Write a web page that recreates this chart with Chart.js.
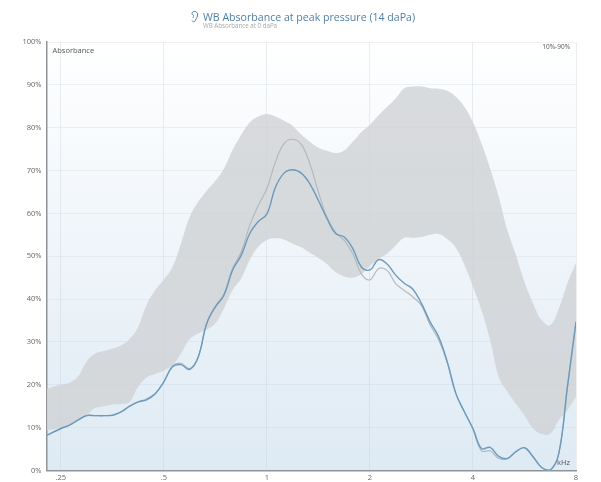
<!DOCTYPE html>
<html>
<head>
<meta charset="utf-8">
<title>WB Absorbance</title>
<script src="https://cdn.jsdelivr.net/npm/chart.js@4"></script>
<style>
  html, body { margin: 0; padding: 0; background: #fff; }
  #wrap { position: relative; width: 601px; height: 482px; overflow: hidden; }
  canvas { position: absolute; left: 0; top: 0; filter: blur(0.5px); }
  #title { position: absolute; left: 203px; top: 10px; font: 10.6px "Open Sans", sans-serif; color: #4f7fa8; white-space: nowrap; filter: blur(0.3px); }
  #subtitle { position: absolute; left: 203px; top: 21px; font: 6.2px "Open Sans", sans-serif; color: #a8a8a8; white-space: nowrap; filter: blur(0.3px); }
  #ear { position: absolute; left: 190px; top: 10px; }
</style>
</head>
<body>
<div id="wrap">
  <canvas id="chart" width="601" height="482"></canvas>
  <svg id="ear" width="9" height="13" viewBox="0 0 9 13"><path d="M2 10.5C3 12.5 5 12 5.5 10C6 8.5 8 7 7.5 4C7 1 3 0.5 2 3C1.5 4.5 3 4.5 3.5 5.5C4 6.5 3 7 3 8" fill="none" stroke="#4f7fa8" stroke-width="1"/></svg>
  <div id="title">WB Absorbance at peak pressure (14 daPa)</div>
  <div id="subtitle">WB Absorbance at 0 daPa</div>
</div>
<script>
const freqs = [
  .227, .25, .265, .281, .297, .315, .334, .354, .375, .397,
  .42, .445, .472, .5, .53, .561, .595, .63, .667, .707,
  .749, .794, .841, .891, .944, 1, 1.059, 1.122, 1.189, 1.26,
  1.335, 1.414, 1.498, 1.587, 1.682, 1.782, 1.888, 2, 2.119, 2.245,
  2.378, 2.52, 2.67, 2.828, 2.997, 3.175, 3.364, 3.564, 3.775, 4,
  4.238, 4.49, 4.757, 5.04, 5.339, 5.657, 5.993, 6.35, 6.727, 7.127,
  7.551, 8
];
const bandTop = [
  19, 20, 20.5, 22, 25.4, 27.3, 27.9, 28.5, 29.2, 30.7,
  33.4, 38.6, 42.1, 44.6, 47.5, 53, 59.2, 62.7, 65.3, 67.6,
  70.5, 74.8, 78.3, 81.2, 82.6, 83.2, 82.6, 81.6, 80.4, 78.4,
  76.7, 75.3, 74.6, 74.1, 74.7, 76.7, 79, 80.7, 82.9, 84.9,
  86.8, 89.2, 89.6, 89.6, 89.2, 89.1, 88.6, 87.2, 84.9, 81.3,
  76.3, 70.5, 63.9, 56.1, 50.3, 44, 39, 35.1, 33.9, 37.8,
  43.7, 48.5
];
const bandBottom = [
  9.4, 10, 10.6, 11.8, 12.9, 14.6, 15, 15.4, 15.5, 16,
  19.5, 21.7, 22.6, 23.3, 24.6, 27.3, 30.7, 32, 32.9, 34.3,
  37.8, 42.1, 44.8, 49.1, 52.2, 53.8, 54.2, 53.9, 52.9, 52.1,
  50.8, 49.6, 48.2, 46.3, 45.3, 45, 45.8, 47.7, 49.4, 50.6,
  52.5, 54.3, 54.3, 54.5, 55, 55.2, 54, 52, 48, 42.9,
  37.4, 30.4, 21.9, 18.4, 15.6, 12.9, 9.8, 8.5, 8.6, 11.8,
  14.1, 17.2
];
const peakPressure = [
  8.2, 9.8, 10.6, 11.8, 12.8, 12.8, 12.8, 12.9, 13.7, 15,
  16, 16.5, 17.9, 20.7, 24.2, 24.7, 23.6, 26.5, 34.3, 38.2,
  40.9, 46.8, 50.2, 55.3, 58.1, 59.9, 66.1, 69.4, 70.2, 69.4,
  66.9, 63, 58.8, 55.3, 54.5, 51.8, 47.5, 46.8, 49.2, 48.2,
  45.6, 43.7, 42.3, 39, 34.7, 31.2, 25.4, 18, 13.7, 9.8,
  5.1, 5.4, 3.3, 2.8, 4.4, 5.3, 3.2, .7, .1, 4,
  19.5, 34.7
];
const zeroPressure = [
  8.2, 9.8, 10.6, 11.8, 12.8, 12.8, 12.8, 12.9, 13.7, 15,
  16, 16.7, 18, 20.7, 24.4, 25, 23.8, 26.5, 34.3, 38.3,
  41.2, 47.2, 51, 57.2, 61.9, 65.8, 72, 76.3, 77.3, 76.1,
  71.6, 65, 59.1, 55.6, 53.7, 50.6, 45.9, 44.5, 47.1, 46.7,
  43.6, 42, 40.5, 38.5, 34, 30.5, 25.2, 18, 13.7, 9.6,
  4.6, 4.6, 2.8, 2.8, 4.4, 5.3, 3.2, .7, .1, 4,
  19.5, 34.7
];
const xTicks = [.25, .5, 1, 2, 4, 8];
const xTickLabels = ['.25', '.5', '1', '2', '4', '8'];

function points(values) {
  return freqs.map((f, i) => ({ x: f, y: values[i] }));
}

// plot background and the small captions inside the plot
const plotExtras = {
  id: 'plotExtras',
  beforeDraw(chart) {
    const { ctx, chartArea: a } = chart;
    const g = ctx.createLinearGradient(0, a.top, 0, a.bottom);
    g.addColorStop(0, '#ffffff');
    g.addColorStop(1, '#deeaf4');
    ctx.fillStyle = g;
    ctx.fillRect(a.left, a.top, a.right - a.left, a.bottom - a.top);
  },
  afterDraw(chart) {
    const { ctx, chartArea: a } = chart;
    ctx.save();
    ctx.fillStyle = '#555';
    ctx.textBaseline = 'middle';
    ctx.font = '7.5px "Open Sans", sans-serif';
    ctx.textAlign = 'left';
    ctx.fillText('Absorbance', a.left + 6, a.top + 9);
    ctx.fillText('kHz', a.right - 19, a.bottom - 8);
    ctx.font = '6.5px "Open Sans", sans-serif';
    ctx.textAlign = 'right';
    ctx.fillText('10%-90%', a.right - 6, a.top + 5);
    ctx.restore();
  }
};

new Chart(document.getElementById('chart').getContext('2d'), {
  type: 'line',
  data: {
    datasets: [
      { data: points(peakPressure), borderColor: '#6a9abd', borderWidth: 1.4, pointRadius: 0, fill: false, tension: 0.4 },
      { data: points(zeroPressure), borderColor: '#b4b9bc', borderWidth: 1.2, pointRadius: 0, fill: false, tension: 0.4 },
      { data: points(bandTop), borderWidth: 0, pointRadius: 0, fill: '+1', backgroundColor: 'rgba(208,210,212,0.8)', tension: 0.4 },
      { data: points(bandBottom), borderWidth: 0, pointRadius: 0, fill: false, tension: 0.4 }
    ]
  },
  plugins: [plotExtras],
  options: {
    responsive: false,
    animation: false,
    layout: { padding: { top: 42, right: 25 } },
    plugins: { legend: { display: false }, tooltip: { enabled: false } },
    scales: {
      x: {
        type: 'logarithmic',
        min: .227,
        max: 8,
        afterFit(s) { s.height = 11.5; },
        afterBuildTicks(s) { s.ticks = xTicks.map(v => ({ value: v })); },
        grid: { color: 'rgba(195,205,215,0.35)', drawTicks: false },
        border: { color: '#8f9498', width: 1.5 },
        ticks: {
          autoSkip: false,
          maxRotation: 0,
          padding: 3,
          color: '#666',
          font: { family: 'Open Sans', size: 7.5 },
          callback: v => xTickLabels[xTicks.indexOf(v)]
        }
      },
      y: {
        min: 0,
        max: 100,
        afterFit(s) { s.width = 46.5; },
        grid: { color: 'rgba(195,205,215,0.25)', drawTicks: false },
        border: { color: '#8f9498', width: 1.5 },
        ticks: {
          stepSize: 10,
          padding: 5,
          color: '#666',
          font: { family: 'Open Sans', size: 7.5 },
          callback: v => v + '%'
        }
      }
    }
  }
});
</script>
</body>
</html>
